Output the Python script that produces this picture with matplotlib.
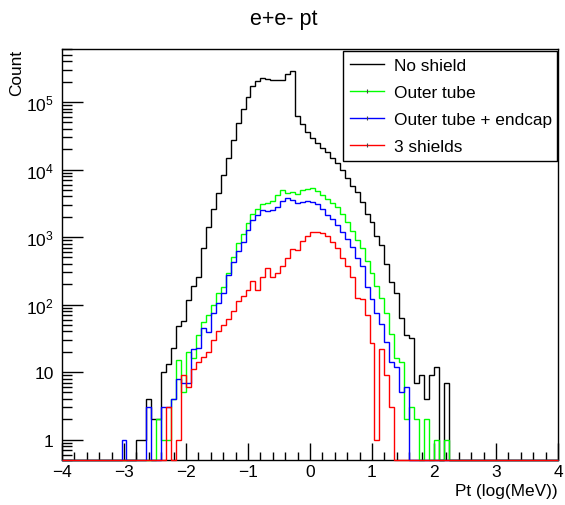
import numpy as np
import matplotlib
matplotlib.use("Agg")
import matplotlib.pyplot as plt
from matplotlib.lines import Line2D
from matplotlib.ticker import FixedLocator, LogLocator, MultipleLocator, FuncFormatter, NullFormatter

plt.rcParams['font.family'] = ['Liberation Sans', 'DejaVu Sans']
plt.rcParams['mathtext.fontset'] = 'custom'
plt.rcParams['mathtext.rm'] = 'Liberation Sans'

# ---------------- data ----------------
x_min, x_max, n_bins = -4.0, 4.0, 100

no_shield = [
    0, 0, 0, 0, 0, 0, 0, 0, 0, 0,
    0, 0, 0, 0, 0, 1, 1, 4, 2, 2,
    10, 13, 23, 48, 57, 118, 187, 260, 680, 1420,
    2600, 4500, 8300, 15000, 27500, 49000, 80000, 118000, 173000, 204000,
    228000, 220000, 210000, 210000, 210000, 262000, 293000, 62000, 47000, 35500,
    29000, 25000, 21000, 18000, 15000, 12500, 10000, 7600, 5800, 4600,
    3300, 2200, 1670, 1050, 760, 400, 215, 150, 64, 36,
    32, 7, 9, 4, 9, 12, 0, 7, 0, 0,
    0, 0, 0, 0, 0, 0, 0, 0, 0, 0,
    0, 0, 0, 0, 0, 0, 0, 0, 0, 0,
]

outer_tube = [
    0, 0, 0, 0, 0, 0, 0, 0, 0, 0,
    0, 0, 0, 0, 0, 0, 0, 0, 0, 2,
    1, 1, 4, 15, 5, 20, 16, 36, 55, 71,
    100, 148, 180, 295, 510, 820, 1130, 1620, 2230, 2650,
    3070, 3240, 3400, 4250, 5000, 4550, 4700, 4370, 4900, 5100,
    5330, 4800, 4150, 3700, 3240, 2800, 2200, 1650, 1230, 900,
    680, 445, 293, 186, 125, 74, 37, 16, 14, 2,
    3, 2, 0, 2, 0, 1, 0, 1, 0, 0,
    0, 0, 0, 0, 0, 0, 0, 0, 0, 0,
    0, 0, 0, 0, 0, 0, 0, 0, 0, 0,
]

tube_endcap = [
    0, 0, 0, 0, 0, 0, 0, 0, 0, 0,
    0, 0, 1, 0, 0, 0, 0, 3, 0, 0,
    3, 3, 4, 8, 7, 7, 22, 23, 45, 39,
    75, 106, 148, 270, 435, 630, 850, 1290, 1820, 2150,
    2560, 2450, 2560, 2800, 3400, 3820, 3570, 3150, 3310, 3400,
    3310, 3070, 2650, 2100, 1870, 1500, 1200, 930, 705, 490,
    375, 182, 121, 74, 51, 28, 14, 12, 5, 6,
    0, 0, 0, 0, 0, 0, 0, 0, 0, 0,
    0, 0, 0, 0, 0, 0, 0, 0, 0, 0,
    0, 0, 0, 0, 0, 0, 0, 0, 0, 0,
]

three_shields = [
    0, 0, 0, 0, 0, 0, 0, 0, 0, 0,
    0, 0, 0, 0, 0, 0, 0, 0, 0, 0,
    0, 3, 0, 1, 9, 6, 11, 14, 17, 20,
    30, 40, 50, 62, 81, 115, 132, 166, 220, 166,
    255, 350, 255, 290, 370, 490, 660, 645, 880, 1030,
    1180, 1200, 1150, 1050, 850, 680, 490, 370, 260, 125,
    121, 69, 27, 1, 22, 9, 3, 0, 0, 0,
    0, 0, 0, 0, 0, 0, 0, 0, 0, 0,
    0, 0, 0, 0, 0, 0, 0, 0, 0, 0,
    0, 0, 0, 0, 0, 0, 0, 0, 0, 0,
]

series_labels = ["No shield", "Outer tube", "Outer tube + endcap", "3 shields"]
series_colors = ["#000000", "#00ff00", "#0000ff", "#ff0000"]
series_values = [no_shield, outer_tube, tube_endcap, three_shields]

x_ticks = [-4, -3, -2, -1, 0, 1, 2, 3, 4]
y_ticks = [1, 10, 100, 1000, 10000, 100000]
y_tick_labels = ["1", "10", r"$\mathregular{10^{2}}$", r"$\mathregular{10^{3}}$",
                 r"$\mathregular{10^{4}}$", r"$\mathregular{10^{5}}$"]

y_min, y_max = 0.5, 6.1e5

# ---------------- figure ----------------
W, H = 565, 506
fig = plt.figure(figsize=(W / 100, H / 100), dpi=100)
L, R, T, B = 62, 558, 50, 461
ax = fig.add_axes([L / W, 1 - B / H, (R - L) / W, (B - T) / H])

edges = np.linspace(x_min, x_max, n_bins + 1)
for vals, col in zip(series_values, series_colors):
    v = np.asarray(vals, dtype=float)
    v = np.where(v > 0, v, y_min)
    ax.stairs(v, edges, baseline=None, color=col, lw=1.0, zorder=3, clip_on=False)

ax.set_xlim(x_min, x_max)
ax.set_yscale('log')
ax.set_ylim(y_min, y_max)

ax.xaxis.set_major_locator(FixedLocator(x_ticks))
ax.xaxis.set_minor_locator(MultipleLocator(0.2))
ax.yaxis.set_major_locator(FixedLocator(y_ticks))
ax.yaxis.set_major_formatter(FuncFormatter(lambda v, p: dict(zip(y_ticks, y_tick_labels)).get(round(v), "")))
ax.yaxis.set_minor_locator(LogLocator(base=10, subs=np.arange(2, 10), numticks=20))
ax.yaxis.set_minor_formatter(NullFormatter())

ax.tick_params(axis='x', which='major', direction='in', length=12, width=1, labelsize=12.5, pad=3, top=False)
ax.tick_params(axis='x', which='minor', direction='in', length=6, width=1, top=False)
ax.tick_params(axis='y', which='major', direction='in', length=15, width=1, labelsize=12.5, pad=6, right=False)
ax.tick_params(axis='y', which='minor', direction='in', length=7.5, width=1, right=False)
for s in ax.spines.values():
    s.set_linewidth(1.0)
    s.set_color('black')

ax.set_xlabel("Pt (log(MeV))", fontsize=12.4, ha='right')
ax.xaxis.set_label_coords(1.0, -0.057)
ax.set_ylabel("Count", fontsize=12.4, ha='right')
ax.yaxis.set_label_coords(-0.076, 1.0)

fig.text(284 / W, 1 - 20 / H, "e+e- pt", fontsize=15.5, ha='center', va='center')

handles = []
for i, (lab, col) in enumerate(zip(series_labels, series_colors)):
    if i == 0:
        handles.append(Line2D([], [], color=col, lw=1.0))
    else:
        handles.append(Line2D([], [], color=col, lw=1.0, marker='|', markersize=3,
                              markeredgewidth=0.8, markeredgecolor='#444444'))
leg = ax.legend(handles, series_labels, loc='upper left',
                bbox_to_anchor=((343 - L) / (R - L), (B - 52) / (B - T), (557 - 343) / (R - L), 0.0),
                mode='expand', fontsize=12.4, frameon=True, fancybox=False, shadow=False,
                framealpha=1, edgecolor='black', borderaxespad=0.0, borderpad=0.4,
                handlelength=2.0, handletextpad=0.55, labelspacing=0.7, numpoints=1)
leg.get_frame().set_linewidth(1.0)
leg.set_zorder(5)

fig.savefig("out.png", dpi=100)
